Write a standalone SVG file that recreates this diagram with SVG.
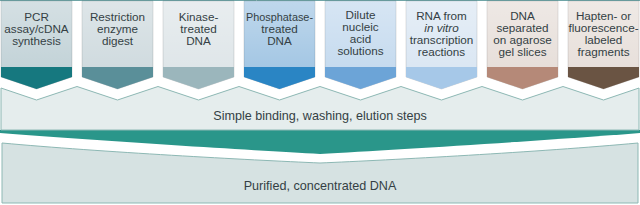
<svg xmlns="http://www.w3.org/2000/svg" width="640" height="205" viewBox="0 0 640 205">
<defs>
<linearGradient id="sheen" x1="0" y1="0" x2="0" y2="1">
<stop offset="0" stop-color="#ffffff" stop-opacity="0.3"/>
<stop offset="1" stop-color="#ffffff" stop-opacity="0"/>
</linearGradient>
</defs>
<style>
.body{stroke:#000;stroke-opacity:0.12;stroke-width:1}
.sheen{fill:url(#sheen)}
.lbl{font-family:"Liberation Sans",Arial,sans-serif;font-size:11.7px;fill:#343f44;text-anchor:middle}
.big{font-family:"Liberation Sans",Arial,sans-serif;font-size:12.6px;fill:#343f44;text-anchor:middle}
.panel{stroke:#8db8b4;stroke-width:1}
</style>
<rect x="0" y="0" width="640" height="205" fill="#ffffff"/>
<line x1="0" y1="0.5" x2="640" y2="0.5" stroke="#6fa4a6" stroke-width="1"/>

<g id="connectors">
<path id="funnel" d="M0,130 L640,130 L640,133 C540,141 390,150 320,154 C250,150 100,141 0,133 Z" fill="#2a968a"/>
</g>

<g id="steps">
<path class="panel" d="M1,88 L36.5,100 L77,86.5 L117.5,100 L158,86.5 L198.5,100 L239,86.5 L279.5,100 L320,86.5 L360.5,100 L401,86.5 L441.5,100 L482,86.5 L522.5,100 L563,86.5 L603.5,100 L639,88 L639,130 L1,130 Z" fill="#e5eded"/>
<text class="big" x="320" y="120">Simple binding, washing, elution steps</text>
</g>

<g id="result">
<path class="panel" d="M2,143 C100,152 250,160 320,163 C390,160 540,152 638,143 L638,203 L2,203 Z" fill="#d6e2e2"/>
<text class="big" x="320" y="190">Purified, concentrated DNA</text>
</g>

<g id="box1">
<path class="body" d="M1,1 H72 V77 L36.5,89 L1,77 Z" fill="#c3d3d8"/>
<path d="M1,67 H72 V77 L36.5,89 L1,77 Z" fill="#16787f"/>
<rect class="sheen" x="1" y="1" width="71" height="66"/>
<text class="lbl" x="36.5" y="21">PCR</text>
<text class="lbl" x="36.5" y="33">assay/cDNA</text>
<text class="lbl" x="36.5" y="45">synthesis</text>
</g>

<g id="box2">
<path class="body" d="M82,1 H153 V77 L117.5,89 L82,77 Z" fill="#d0dbdf"/>
<path d="M82,67 H153 V77 L117.5,89 L82,77 Z" fill="#5a8f99"/>
<rect class="sheen" x="82" y="1" width="71" height="66"/>
<text class="lbl" x="117.5" y="21">Restriction</text>
<text class="lbl" x="117.5" y="33">enzyme</text>
<text class="lbl" x="117.5" y="45">digest</text>
</g>

<g id="box3">
<path class="body" d="M163,1 H234 V77 L198.5,89 L163,77 Z" fill="#dfe6e9"/>
<path d="M163,67 H234 V77 L198.5,89 L163,77 Z" fill="#9bb6bc"/>
<rect class="sheen" x="163" y="1" width="71" height="66"/>
<text class="lbl" x="198.5" y="21">Kinase-</text>
<text class="lbl" x="198.5" y="33">treated</text>
<text class="lbl" x="198.5" y="45">DNA</text>
</g>

<g id="box4">
<path class="body" d="M244,1 H315 V77 L279.5,89 L244,77 Z" fill="#a4c7e4"/>
<path d="M244,67 H315 V77 L279.5,89 L244,77 Z" fill="#2a85c4"/>
<rect class="sheen" x="244" y="1" width="71" height="66"/>
<text class="lbl" x="279.5" y="21" textLength="67" lengthAdjust="spacingAndGlyphs">Phosphatase-</text>
<text class="lbl" x="279.5" y="33">treated</text>
<text class="lbl" x="279.5" y="45">DNA</text>
</g>

<g id="box5">
<path class="body" d="M325,1 H396 V77 L360.5,89 L325,77 Z" fill="#c6dbef"/>
<path d="M325,67 H396 V77 L360.5,89 L325,77 Z" fill="#6ca4d7"/>
<rect class="sheen" x="325" y="1" width="71" height="66"/>
<text class="lbl" x="360.5" y="19">Dilute</text>
<text class="lbl" x="360.5" y="31">nucleic</text>
<text class="lbl" x="360.5" y="43">acid</text>
<text class="lbl" x="360.5" y="55">solutions</text>
</g>

<g id="box6">
<path class="body" d="M406,1 H477 V77 L441.5,89 L406,77 Z" fill="#dbe7f3"/>
<path d="M406,67 H477 V77 L441.5,89 L406,77 Z" fill="#a6c8e8"/>
<rect class="sheen" x="406" y="1" width="71" height="66"/>
<text class="lbl" x="441.5" y="20">RNA from</text>
<text class="lbl" x="441.5" y="32" font-style="italic">in vitro</text>
<text class="lbl" x="441.5" y="44">transcription</text>
<text class="lbl" x="441.5" y="56">reactions</text>
</g>

<g id="box7">
<path class="body" d="M487,1 H558 V77 L522.5,89 L487,77 Z" fill="#e7dfda"/>
<path d="M487,67 H558 V77 L522.5,89 L487,77 Z" fill="#b58978"/>
<rect class="sheen" x="487" y="1" width="71" height="66"/>
<text class="lbl" x="522.5" y="20">DNA</text>
<text class="lbl" x="522.5" y="32">separated</text>
<text class="lbl" x="522.5" y="44">on agarose</text>
<text class="lbl" x="522.5" y="56">gel slices</text>
</g>

<g id="box8">
<path class="body" d="M568,1 H639 V77 L603.5,89 L568,77 Z" fill="#e8e0db"/>
<path d="M568,67 H639 V77 L603.5,89 L568,77 Z" fill="#6a5443"/>
<rect class="sheen" x="568" y="1" width="71" height="66"/>
<text class="lbl" x="603.5" y="20">Hapten- or</text>
<text class="lbl" x="603.5" y="32">fluorescence-</text>
<text class="lbl" x="603.5" y="44">labeled</text>
<text class="lbl" x="603.5" y="56">fragments</text>
</g>
</svg>
